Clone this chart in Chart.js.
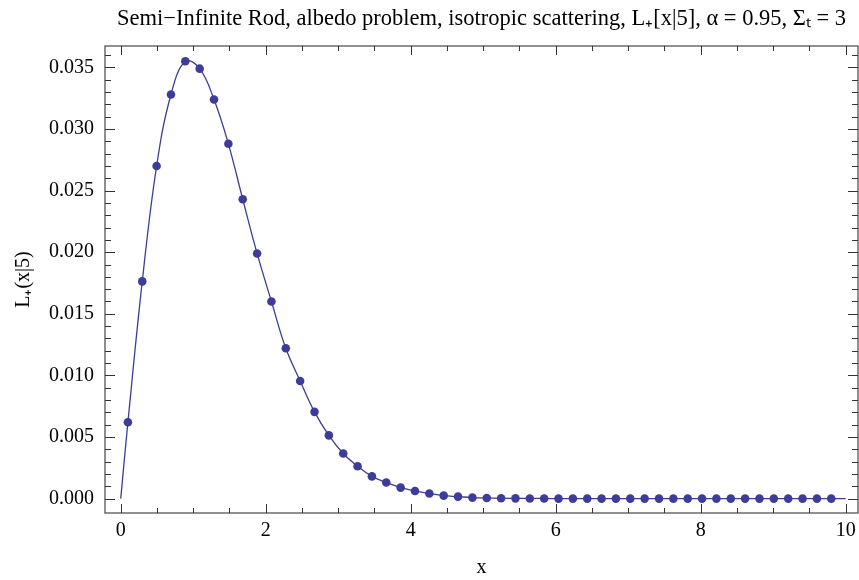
<!DOCTYPE html>
<html><head><meta charset="utf-8">
<script src="https://cdn.jsdelivr.net/npm/chart.js@4"></script>
<style>html,body{margin:0;padding:0;background:#fff}#wrap{width:859px;height:580px;position:relative}</style>
</head><body><div id="wrap"><canvas id="c"></canvas></div>
<script>
// ---- data ----
const xValues = [0.099, 0.297, 0.495, 0.693, 0.891, 1.089, 1.287, 1.485, 1.683, 1.881,
  2.079, 2.277, 2.475, 2.673, 2.871, 3.069, 3.267, 3.465, 3.663, 3.861,
  4.059, 4.257, 4.455, 4.653, 4.851, 5.049, 5.247, 5.445, 5.643, 5.841,
  6.039, 6.237, 6.435, 6.633, 6.831, 7.029, 7.227, 7.425, 7.623, 7.821,
  8.019, 8.217, 8.415, 8.613, 8.811, 9.009, 9.207, 9.405, 9.603, 9.801];
const lValues = [0.0062, 0.01763, 0.0270, 0.0328, 0.0355, 0.0349, 0.0324, 0.0288, 0.0243, 0.0199,
  0.0160, 0.0122, 0.00955, 0.00704, 0.00513, 0.00366, 0.00263, 0.00180, 0.00131, 0.00089,
  0.00062, 0.00041, 0.00024, 0.00016, 0.00008, 0.00005, 0.00003, 0.00002, 0.00001, 0.00001,
  0, 0, 0, 0, 0, 0, 0, 0, 0, 0,
  0, 0, 0, 0, 0, 0, 0, 0, 0, 0];
const curveStart = {x: 0, y: 0};
const curveEnd = {x: 10, y: 0};
const xTicks = [0, 2, 4, 6, 8, 10];
const yTicks = [0, 0.005, 0.010, 0.015, 0.020, 0.025, 0.030, 0.035];
const xMinorStep = 0.5;
const yMinorStep = 0.001;
const titleText = 'Semi\u2212Infinite Rod, albedo problem, isotropic scattering, L\u208A[x|5], \u03B1 = 0.95, \u03A3\u209C = 3';
const xTitle = 'x';
const yTitle = 'L\u208A(x|5)';

// ---- styles ----
const BLUE = '#3d3d99';
const FONT = 'Liberation Serif';

const points = xValues.map((x, i) => ({x: x, y: lValues[i]}));
const curve = [curveStart, ...points, curveEnd];

const framePlugin = {
  id: 'frameTicks',
  beforeDatasetsDraw(chart) {
    const {ctx, chartArea: a, scales: {x, y}} = chart;
    ctx.save();
    ctx.strokeStyle = '#555';
    ctx.lineWidth = 1.3;
    ctx.strokeRect(a.left, a.top, a.right - a.left, a.bottom - a.top);
    ctx.strokeStyle = '#333';
    ctx.lineWidth = 1;
    const line = (x1, y1, x2, y2) => { ctx.beginPath(); ctx.moveTo(x1, y1); ctx.lineTo(x2, y2); ctx.stroke(); };
    for (let v = 0; v <= 10 + 1e-9; v += xMinorStep) {
      const major = xTicks.some(t => Math.abs(t - v) < 1e-9);
      const len = major ? 9 : 5;
      const px = Math.round(x.getPixelForValue(v)) + 0.5;
      line(px, a.bottom, px, a.bottom - len);
      line(px, a.top, px, a.top + len);
    }
    for (let v = 0; v <= 0.0365 + 1e-12; v += yMinorStep) {
      const major = yTicks.some(t => Math.abs(t - v) < 1e-9);
      const len = major ? 10 : 6;
      const py = Math.round(y.getPixelForValue(v)) + 0.5;
      line(a.left, py, a.left + len, py);
      line(a.right, py, a.right - len, py);
    }
    ctx.restore();
  }
};

new Chart(document.getElementById('c'), {
  type: 'scatter',
  data: {
    datasets: [
      {data: curve, showLine: true, borderColor: BLUE, borderWidth: 1.3, pointRadius: 0, tension: 0.4, fill: false, order: 2},
      {data: points, showLine: false, backgroundColor: BLUE, borderColor: BLUE, pointRadius: 4.3, pointBorderWidth: 0, order: 1}
    ]
  },
  options: {
    responsive: true,
    maintainAspectRatio: false,
    animation: false,
    layout: {autoPadding: false, padding: {left: 0, right: 1, top: 0, bottom: 0}},
    plugins: {
      legend: {display: false},
      tooltip: {enabled: false},
      title: {
        display: true, text: titleText, fullSize: false, align: 'center',
        color: '#000', font: {family: FONT, size: 22.5, weight: 'normal'},
        padding: {top: 6, bottom: 13}
      }
    },
    scales: {
      x: {
        type: 'linear', min: -0.217, max: 10.17,
        grid: {display: false}, border: {display: false},
        afterBuildTicks: s => { s.ticks = xTicks.map(v => ({value: v})); },
        afterFit: s => { s.height = 67; s.paddingLeft = 0; s.paddingRight = 0; },
        ticks: {color: '#000', font: {family: FONT, size: 20}, padding: -2, maxRotation: 0, autoSkip: false,
          callback: v => String(v)},
        title: {display: true, text: xTitle, color: '#000', font: {family: FONT, size: 20}, padding: {top: 0, bottom: 0}}
      },
      y: {
        type: 'linear', min: -0.00117, max: 0.03674,
        grid: {display: false}, border: {display: false},
        afterBuildTicks: s => { s.ticks = yTicks.map(v => ({value: v})); },
        afterFit: s => { s.width = 105; s.paddingTop = 0; s.paddingBottom = 0; },
        ticks: {color: '#000', font: {family: FONT, size: 20}, padding: 3, autoSkip: false,
          callback: v => v.toFixed(3)},
        title: {display: true, text: yTitle, color: '#000', font: {family: FONT, size: 20}, padding: {top: 12, bottom: 0}}
      }
    }
  },
  plugins: [framePlugin]
});
</script></body></html>
